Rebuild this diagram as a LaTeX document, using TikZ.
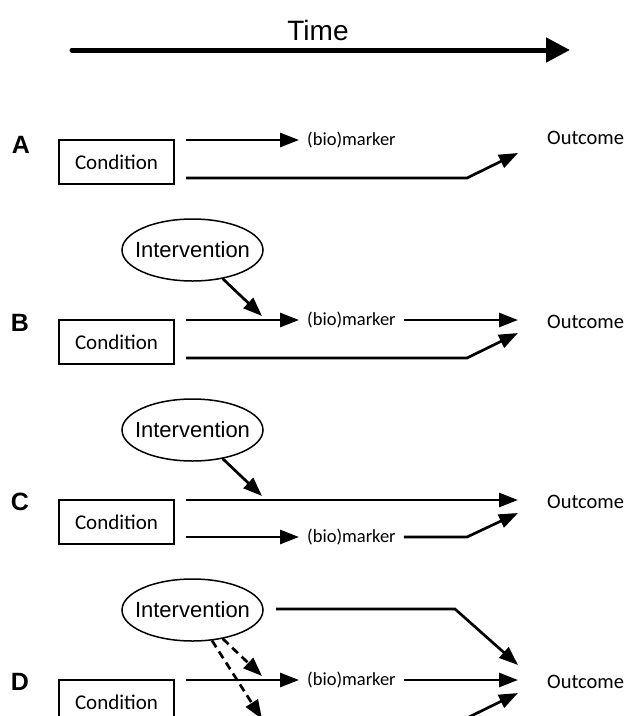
\documentclass[tikz,border=0pt]{standalone}
\usepackage{fontspec}
\setmainfont{Carlito}
\newfontfamily\arialf{Liberation Sans}
\usetikzlibrary{arrows.meta,shapes.geometric}
\tikzset{
  arr/.style={line width=2.7pt,-{Triangle[length=19pt,width=14pt]}},
  dsh/.style={arr, dash pattern=on 8pt off 5pt},
  timearr/.style={line width=5pt, line cap=round, -{Triangle[length=24pt,width=24pt]}},
  cond/.style={draw, line width=1.6pt, minimum width=115pt, minimum height=44pt, inner sep=0pt, font=\fontsize{21}{24}\selectfont},
  interv/.style={ellipse, draw, line width=1.5pt, minimum width=141pt, minimum height=62pt, inner sep=0pt},
  ivtext/.style={font=\arialf\fontsize{22}{26}\selectfont, inner sep=0pt},
  bm/.style={font=\fontsize{18.5}{22}\selectfont, anchor=west, inner xsep=8pt, inner ysep=0pt},
  outc/.style={font=\fontsize{20.5}{24}\selectfont, anchor=west, inner sep=0pt},
  lbl/.style={font=\arialf\bfseries\fontsize{25}{28}\selectfont, inner sep=0pt},
  ttl/.style={font=\arialf\fontsize{28}{32}\selectfont, inner sep=0pt}
}
\begin{document}
\begin{tikzpicture}[x=1pt,y=-1pt]
\useasboundingbox (0,0) rectangle (629,716);
\clip (0,0) rectangle (629,716);
% Time
\node[ttl] (time) at (318,30) {Time};
\coordinate (t0) at (72,50);
\coordinate (t1) at (570,50);
\draw[timearr] (t0) -- (t1);

% Row A
\node[lbl] (lA) at (21,145) {A};
\node[cond] (cA) at (116.5,162) {Condition};
\node[bm] (bA) at (299,140) {(bio)marker};
\node[outc] (oA) at (547,138) {Outcome};
\coordinate (sA1) at (186,140);
\coordinate (sA2) at (186,178);
\coordinate (kA) at (467,178);
\coordinate (tA) at (518,153);
\draw[arr] (sA1) -- (bA.west);
\draw[arr] (sA2) -- (kA) -- (tA);

% Row B
\node[lbl] (lB) at (20,323) {B};
\node[cond] (cB) at (116.5,342) {Condition};
\node[interv] (iB) at (192.5,250) {};
\node[ivtext] (iBt) at (iB.center) {Intervention};
\node[bm] (bB) at (299,320) {(bio)marker};
\node[outc] (oB) at (547,322) {Outcome};
\coordinate (sB1) at (186,320);
\coordinate (tB1) at (518,320);
\coordinate (sB2) at (186,358);
\coordinate (kB) at (467,358);
\coordinate (tB2) at (518,333);
\coordinate (hB) at (262,316);
\draw[arr] (sB1) -- (bB.west);
\draw[arr] (bB.east) -- (tB1);
\draw[arr] (sB2) -- (kB) -- (tB2);
\draw[arr] (iB) -- (hB);

% Row C
\node[lbl] (lC) at (20,502) {C};
\node[cond] (cC) at (116.5,522) {Condition};
\node[interv] (iC) at (192.5,430) {};
\node[ivtext] (iCt) at (iC.center) {Intervention};
\node[bm] (bC) at (299,537) {(bio)marker};
\node[outc] (oC) at (547,502) {Outcome};
\coordinate (sC1) at (186,500);
\coordinate (tC1) at (518,500);
\coordinate (sC2) at (186,537);
\coordinate (kC) at (467,537);
\coordinate (tC2) at (518,513);
\coordinate (hC) at (262,496);
\draw[arr] (sC1) -- (tC1);
\draw[arr] (sC2) -- (bC.west);
\draw[arr] (bC.east) -- (kC) -- (tC2);
\draw[arr] (iC) -- (hC);

% Row D
\node[lbl] (lD) at (20,682) {D};
\node[cond] (cD) at (116.5,702) {Condition};
\node[interv] (iD) at (192.5,610) {};
\node[ivtext] (iDt) at (iD.center) {Intervention};
\node[bm] (bD) at (299,680) {(bio)marker};
\node[outc] (oD) at (547,682) {Outcome};
\coordinate (sD0) at (276,609);
\coordinate (kD0) at (455,609);
\coordinate (tD0) at (518,665);
\coordinate (sD1) at (186,680);
\coordinate (tD1) at (518,680);
\coordinate (sD2) at (186,718);
\coordinate (kD) at (467,718);
\coordinate (tD2) at (518,693);
\coordinate (hD1) at (262,676);
\coordinate (hD2) at (262,719);
\draw[arr] (sD0) -- (kD0) -- (tD0);
\draw[arr] (sD1) -- (bD.west);
\draw[arr] (bD.east) -- (tD1);
\draw[arr] (sD2) -- (kD) -- (tD2);
\draw[dsh] (iD) -- (hD1);
\draw[dsh] (iD) -- (hD2);
\end{tikzpicture}
\end{document}
